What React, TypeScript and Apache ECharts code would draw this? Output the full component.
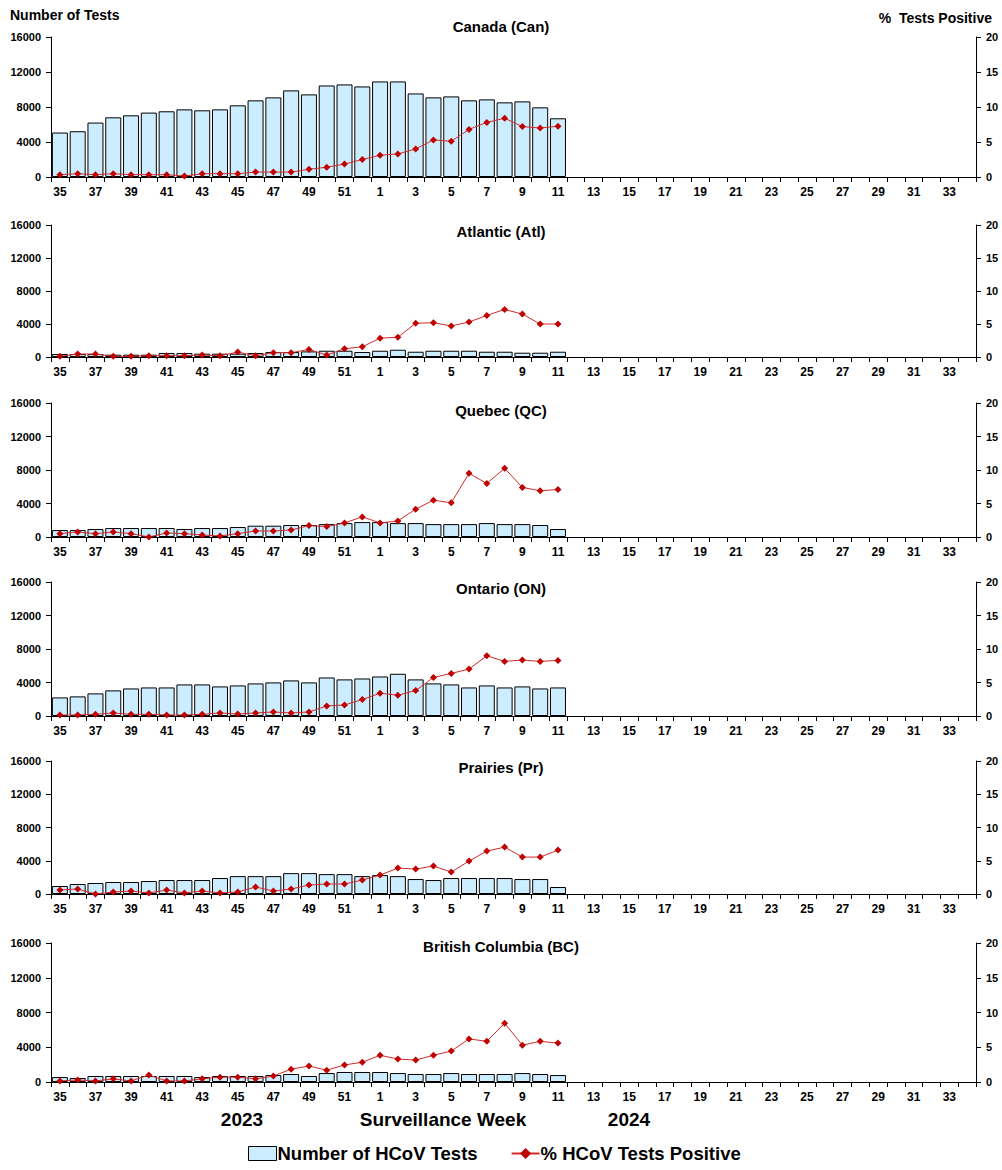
import React, { useEffect, useRef } from "react";
import * as echarts from "echarts";

const weeks = [
  "35","36","37","38","39","40","41","42","43","44","45","46","47","48","49","50","51","52",
  "1","2","3","4","5","6","7","8","9","10","11","12","13","14","15","16","17","18","19","20",
  "21","22","23","24","25","26","27","28","29","30","31","32","33","34",
];

const panelTitles = ["Canada (Can)", "Atlantic (Atl)", "Quebec (QC)", "Ontario (ON)", "Prairies (Pr)", "British Columbia (BC)"];

const canTests = [5080,5230,6220,6820,7050,7360,7510,7730,7620,7730,8190,8760,9100,9900,9440,10460,10580,10350,10920,10920,9550,9100,9210,8760,8870,8530,8640,7960,6710];
const canPos = [0.33,0.47,0.33,0.47,0.33,0.33,0.33,0.14,0.47,0.47,0.47,0.7,0.7,0.7,1.1,1.4,1.85,2.5,3.1,3.3,4.0,5.3,5.1,6.8,7.8,8.4,7.2,7.0,7.25];

const atlTests = [360,360,360,280,280,280,480,480,400,400,400,480,600,600,680,760,760,600,760,880,640,760,760,760,640,640,520,520,640];
const atlPos = [0.1,0.45,0.45,0.1,0.1,0.2,0.2,0.2,0.3,0.2,0.75,0.2,0.65,0.65,1.15,0.3,1.25,1.55,2.85,3.0,5.1,5.2,4.7,5.3,6.3,7.2,6.5,5.0,5.0];

const qcTests = [830,830,950,1070,1070,1070,1070,950,1070,1070,1190,1350,1350,1430,1430,1540,1660,1780,1780,1660,1660,1540,1540,1540,1660,1540,1540,1430,950];
const qcPos = [0.5,0.75,0.5,0.75,0.5,0.0,0.6,0.5,0.3,0.15,0.5,0.9,0.9,1.05,1.7,1.55,2.1,3.0,2.1,2.4,4.15,5.5,5.1,9.5,8.0,10.25,7.4,6.9,7.1];

const onTests = [2220,2340,2700,3060,3290,3410,3410,3770,3770,3530,3650,3890,4010,4250,4010,4600,4370,4480,4720,5040,4370,3890,3770,3410,3650,3410,3530,3290,3410];
const onPos = [0.15,0.15,0.25,0.45,0.25,0.25,0.15,0.15,0.25,0.45,0.3,0.45,0.6,0.45,0.6,1.5,1.65,2.45,3.4,3.1,3.8,5.75,6.35,7.0,9.0,8.15,8.35,8.15,8.3];

const prTests = [960,1200,1320,1440,1440,1560,1680,1680,1680,1920,2150,2150,2150,2510,2510,2390,2390,2150,2270,2150,1800,1680,1920,1920,1920,1920,1800,1800,840];
const prPos = [0.6,0.75,0.0,0.3,0.45,0.15,0.6,0.15,0.45,0.15,0.3,1.05,0.45,0.75,1.35,1.5,1.5,2.1,2.85,3.9,3.75,4.2,3.3,4.95,6.45,7.05,5.55,5.55,6.6];

const bcTests = [570,460,690,690,690,690,690,690,570,690,690,690,800,920,690,1030,1150,1150,1150,1030,920,920,1030,920,920,920,1030,920,800];
const bcPos = [0.15,0.3,0.15,0.45,0.15,1.0,0.15,0.15,0.45,0.7,0.7,0.45,0.85,1.85,2.3,1.7,2.45,2.85,3.85,3.3,3.15,3.85,4.45,6.2,5.85,8.45,5.3,5.85,5.6];

const testsData = [canTests, atlTests, qcTests, onTests, prTests, bcTests];
const posData = [canPos, atlPos, qcPos, onPos, prPos, bcPos];

const leftTicks = [0, 4000, 8000, 12000, 16000];
const rightTicks = [0, 5, 10, 15, 20];

const BAR_NAME = "Number of HCoV Tests";
const LINE_NAME = "% HCoV Tests Positive";

// layout (pixels)
const gridTops = [37, 225, 403, 582, 761, 943];
const gridHeights = [140, 132, 134, 134, 133, 139];
const titleYs = [26, 231, 410, 588, 767, 946];
const FONT = "'Liberation Sans', Arial, sans-serif";

export default function App() {
  const ref = useRef<HTMLDivElement>(null);

  useEffect(() => {
    if (!ref.current) return;
    const chart = echarts.init(ref.current, null, { renderer: "svg" });

    const grids: any[] = [];
    const xAxes: any[] = [];
    const yAxes: any[] = [];
    const series: any[] = [];
    const graphics: any[] = [];

    for (let i = 0; i < 6; i++) {
      grids.push({ left: 51, right: 26, top: gridTops[i], height: gridHeights[i], containLabel: false });
      xAxes.push({
        type: "category",
        gridIndex: i,
        data: weeks,
        boundaryGap: true,
        axisLine: { show: true, lineStyle: { color: "#000", width: 1 } },
        axisTick: { show: true, interval: 0, length: 5, lineStyle: { color: "#000" } },
        axisLabel: { interval: 1, color: "#000", fontSize: 12, fontWeight: "bold", fontFamily: FONT, margin: 9 },
        splitLine: { show: false },
      });
      yAxes.push({
        type: "value",
        gridIndex: i,
        min: leftTicks[0],
        max: leftTicks[leftTicks.length - 1],
        interval: leftTicks[1] - leftTicks[0],
        position: "left",
        axisLine: { show: true, lineStyle: { color: "#000", width: 1 } },
        axisTick: { show: true, length: 5, lineStyle: { color: "#000" } },
        axisLabel: {
          color: "#000", fontSize: 11, fontWeight: "bold", fontFamily: FONT, margin: 10,
          formatter: (v: number) => String(v),
        },
        splitLine: { show: false },
      });
      yAxes.push({
        type: "value",
        gridIndex: i,
        min: rightTicks[0],
        max: rightTicks[rightTicks.length - 1],
        interval: rightTicks[1] - rightTicks[0],
        position: "right",
        axisLine: { show: true, lineStyle: { color: "#000", width: 1 } },
        axisTick: { show: true, length: 5, lineStyle: { color: "#000" } },
        axisLabel: { color: "#000", fontSize: 11, fontWeight: "bold", fontFamily: FONT, margin: 10 },
        splitLine: { show: false },
      });
      series.push({
        name: BAR_NAME,
        type: "bar",
        xAxisIndex: i,
        yAxisIndex: 2 * i,
        data: testsData[i],
        barCategoryGap: "10%",
        itemStyle: { color: "#CCECFF", borderColor: "#000", borderWidth: 1 },
        z: 2,
      });
      series.push({
        name: LINE_NAME,
        type: "line",
        xAxisIndex: i,
        yAxisIndex: 2 * i + 1,
        data: posData[i],
        symbol: "diamond",
        symbolSize: 7,
        lineStyle: { color: "#d42a2a", width: 1 },
        itemStyle: { color: "#c00000" },
        z: 3,
      });
      graphics.push({
        type: "text",
        x: 501,
        y: titleYs[i],
        style: { text: panelTitles[i], fontSize: 15, fontWeight: "bold", fontFamily: FONT, fill: "#000", textAlign: "center", textVerticalAlign: "middle" },
      });
    }

    graphics.push({
      type: "text",
      x: 10,
      y: 15,
      style: { text: "Number of Tests", fontSize: 14, fontWeight: "bold", fontFamily: FONT, fill: "#000", textAlign: "left", textVerticalAlign: "middle" },
    });
    graphics.push({
      type: "text",
      x: 992,
      y: 18,
      style: { text: "%  Tests Positive", fontSize: 14, fontWeight: "bold", fontFamily: FONT, fill: "#000", textAlign: "right", textVerticalAlign: "middle" },
    });
    graphics.push({
      type: "text",
      x: 242,
      y: 1119,
      style: { text: "2023", fontSize: 19, fontWeight: "bold", fontFamily: FONT, fill: "#000", textAlign: "center", textVerticalAlign: "middle" },
    });
    graphics.push({
      type: "text",
      x: 443,
      y: 1119,
      style: { text: "Surveillance Week", fontSize: 19, fontWeight: "bold", fontFamily: FONT, fill: "#000", textAlign: "center", textVerticalAlign: "middle" },
    });
    graphics.push({
      type: "text",
      x: 629,
      y: 1119,
      style: { text: "2024", fontSize: 19, fontWeight: "bold", fontFamily: FONT, fill: "#000", textAlign: "center", textVerticalAlign: "middle" },
    });

    chart.setOption({
      animation: false,
      backgroundColor: "#fff",
      grid: grids,
      xAxis: xAxes,
      yAxis: yAxes,
      series,
      graphic: graphics,
      legend: {
        left: 243,
        top: 1139,
        itemWidth: 28,
        itemHeight: 14,
        itemGap: 33,
        selectedMode: false,
        data: [
          { name: BAR_NAME, icon: "rect", itemStyle: { borderWidth: 1, borderColor: "#000", color: "#CCECFF" } },
          { name: LINE_NAME },
        ],
        textStyle: { fontSize: 18.5, fontWeight: "bold", fontFamily: FONT, color: "#000", padding: [0, 0, 0, -4] },
      },
    });

    return () => chart.dispose();
  }, []);

  return <div ref={ref} style={{ position: "absolute", left: 0, top: 0, width: 1002, height: 1170 }} />;
}
